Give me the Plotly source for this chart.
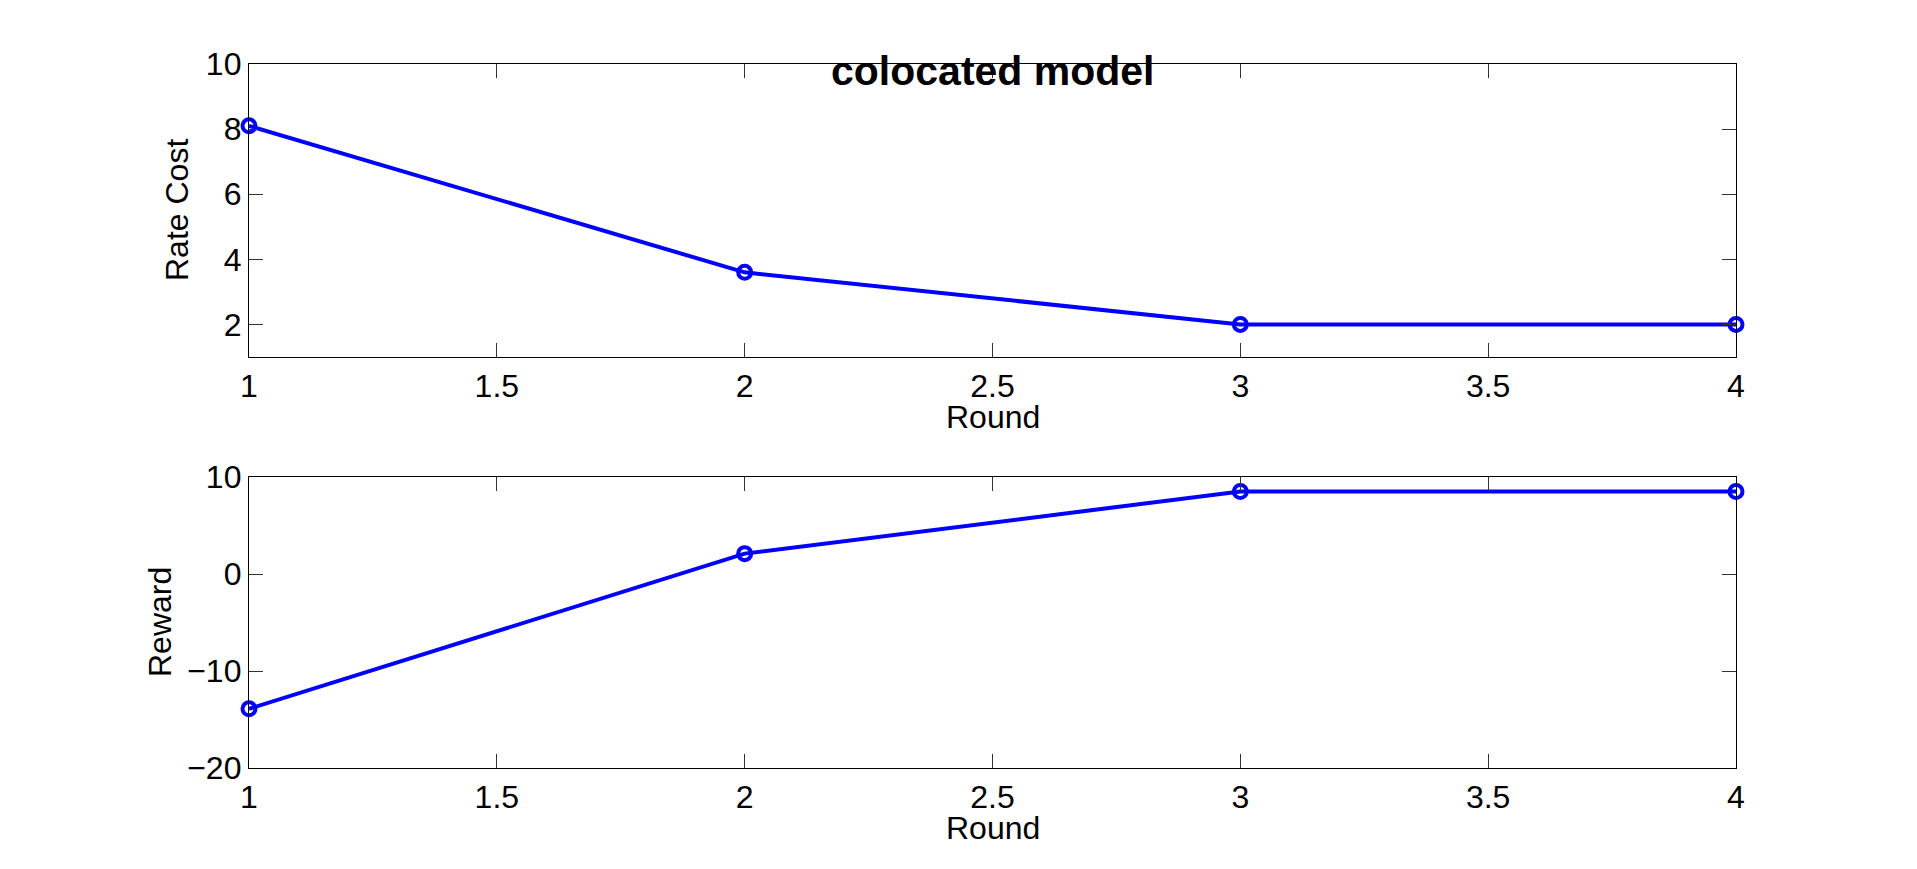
import plotly.graph_objects as go

rounds = [1, 2, 3, 4]
rate_cost = [8.1, 3.6, 2.0, 2.0]
reward = [-13.9, 2.1, 8.5, 8.5]

x_ticks = [1, 1.5, 2, 2.5, 3, 3.5, 4]
x_tick_text = ["1", "1.5", "2", "2.5", "3", "3.5", "4"]
y1_ticks = [2, 4, 6, 8, 10]
y2_ticks = [-20, -10, 0, 10]

title_text = "colocated model"
x_label = "Round"
y1_label = "Rate Cost"
y2_label = "Reward"

W, H = 1917, 869
ml, mr, mt, mb = 249, 181, 64, 101
ph = H - mt - mb
top_dom = [(768 - 357) / ph, 1.0]
bot_dom = [0.0, (768 - 477) / ph]

FONT = "Liberation Sans, Arial, Helvetica, sans-serif"
BLUE = "#0000FF"

fig = go.Figure()
line_style = dict(color=BLUE, width=4)
marker_style = dict(symbol="circle-open", size=13, color=BLUE, line=dict(width=4, color=BLUE))

fig.add_trace(go.Scatter(x=rounds, y=rate_cost, mode="lines+markers", line=line_style,
                         marker=marker_style, cliponaxis=False, xaxis="x", yaxis="y", showlegend=False))
fig.add_trace(go.Scatter(x=rounds, y=reward, mode="lines+markers", line=line_style,
                         marker=marker_style, cliponaxis=False, xaxis="x2", yaxis="y2", showlegend=False))

axis_common = dict(showgrid=False, zeroline=False, showline=True, linecolor="black", linewidth=1.3,
                   mirror="ticks", ticks="inside", ticklen=14, tickwidth=1.2, tickcolor="#333333",
                   tickfont=dict(family=FONT, size=32, color="black"))

fig.update_layout(
    width=W, height=H,
    margin=dict(l=ml, r=mr, t=mt, b=mb),
    paper_bgcolor="white", plot_bgcolor="white",
    xaxis=dict(domain=[0, 1], anchor="y", range=[1, 4], tickvals=x_ticks, ticktext=x_tick_text, **axis_common),
    yaxis=dict(domain=top_dom, anchor="x", range=[1, 10], tickvals=y1_ticks, **axis_common),
    xaxis2=dict(domain=[0, 1], anchor="y2", range=[1, 4], tickvals=x_ticks, ticktext=x_tick_text, **axis_common),
    yaxis2=dict(domain=bot_dom, anchor="x2", range=[-20, 10], tickvals=y2_ticks, **axis_common),
)

ann_font = dict(family=FONT, size=32, color="black")
annotations = [
    dict(text="<b>" + title_text + "</b>", x=0.5, y=1.0, xref="paper", yref="paper",
         xanchor="center", yanchor="bottom", yshift=-32, showarrow=False,
         font=dict(family=FONT, size=41, color="black")),
    dict(text=x_label, x=0.5, y=top_dom[0], xref="paper", yref="paper", xanchor="center",
         yanchor="top", yshift=-40, showarrow=False, font=ann_font),
    dict(text=x_label, x=0.5, y=bot_dom[0], xref="paper", yref="paper", xanchor="center",
         yanchor="top", yshift=-40, showarrow=False, font=ann_font),
    dict(text=y1_label, x=0, y=(top_dom[0] + top_dom[1]) / 2, xref="paper", yref="paper",
         xanchor="center", yanchor="middle", xshift=-71.5, textangle=-90, showarrow=False, font=ann_font),
    dict(text=y2_label, x=0, y=(bot_dom[0] + bot_dom[1]) / 2, xref="paper", yref="paper",
         xanchor="center", yanchor="middle", xshift=-89.5, textangle=-90, showarrow=False, font=ann_font),
]
fig.update_layout(annotations=annotations)

fig.write_html("out.html")
